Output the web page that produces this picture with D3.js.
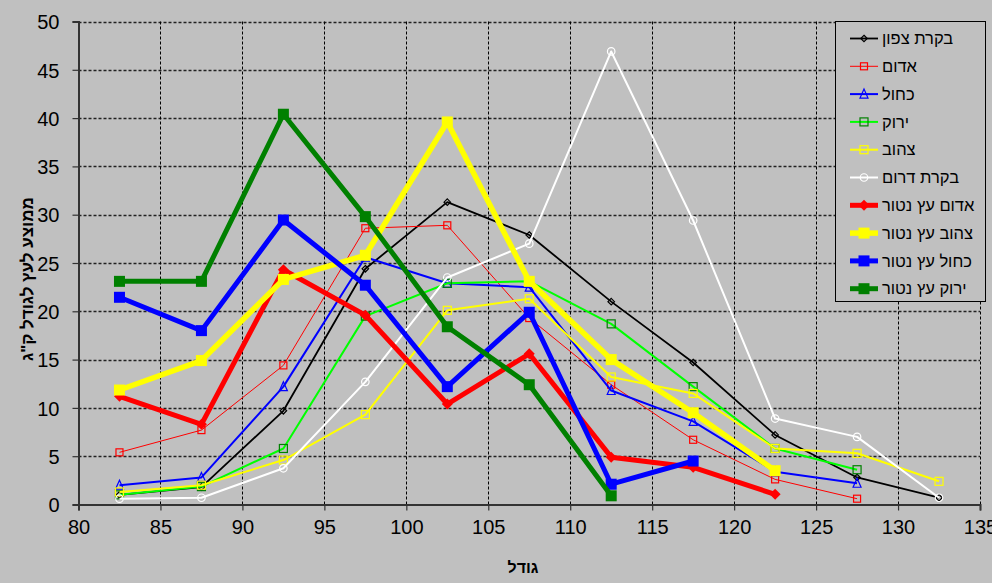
<!DOCTYPE html>
<html><head><meta charset="utf-8">
<script src="https://cdn.jsdelivr.net/npm/d3@7"></script>
<style>
html,body{margin:0;padding:0;background:#C0C0C0;}
svg{display:block;font-family:"Liberation Sans",Arial,sans-serif;}
</style></head>
<body>
<svg id="chart" width="992" height="583"></svg>
<script>
// ---- data ----
const sizes = [82.5, 87.5, 92.5, 97.5, 102.5, 107.5, 112.5, 117.5, 122.5, 127.5, 132.5];
const xTicks = [80, 85, 90, 95, 100, 105, 110, 115, 120, 125, 130, 135];
const yTicks = [0, 5, 10, 15, 20, 25, 30, 35, 40, 45, 50];
const seriesNames = ["בקרת צפון", "אדום", "כחול", "ירוק", "צהוב", "בקרת דרום",
                     "אדום עץ נטור", "צהוב עץ נטור", "כחול עץ נטור", "ירוק עץ נטור"];
const northControl = [1.0, 1.8, 9.7, 24.4, 31.3, 27.9, 21.0, 14.7, 7.2, 2.8, 0.7];
const redThin      = [5.4, 7.7, 14.4, 28.6, 28.9, 19.3, 12.4, 6.7, 2.6, 0.6, null];
const blueThin     = [2.0, 2.8, 12.2, 25.6, 22.9, 22.5, 11.8, 8.6, 3.4, 2.2, null];
const greenThin    = [1.0, 1.85, 5.8, 19.5, 22.9, 23.1, 18.7, 12.2, 5.8, 3.6, null];
const yellowThin   = [1.3, 2.0, 4.6, 9.3, 20.1, 21.3, 13.2, 11.5, 5.8, 5.3, 2.4];
const southControl = [0.6, 0.7, 3.75, 12.7, 23.5, 27.0, 46.9, 29.4, 8.9, 7.0, 0.7];
const redGrafted    = [11.2, 8.3, 24.3, 19.6, 10.4, 15.6, 4.9, 3.85, 1.05, null, null];
const yellowGrafted = [11.85, 14.9, 23.3, 25.8, 39.6, 23.1, 15.0, 9.5, 3.5, null, null];
const blueGrafted   = [21.45, 18.0, 29.45, 22.7, 12.2, 19.9, 2.1, 4.5, null, null, null];
const greenGrafted  = [23.1, 23.1, 40.4, 29.8, 18.4, 12.4, 0.9, null, null, null, null];
const xTitle = "גודל";
const yTitle = "ממוצע לעץ לגודל ק\"ג";

// ---- styles ----
const styles = [
  {line:"#000000", w:1.8, marker:"diamond", ms:6.5, mstroke:"#000000", mfill:"none"},
  {line:"#FF0000", w:1,   marker:"square",  ms:7,   mstroke:"#FF0000", mfill:"none"},
  {line:"#0000FF", w:2,   marker:"triangle",ms:8,   mstroke:"#0000FF", mfill:"none"},
  {line:"#00FF00", w:2,   marker:"square",  ms:8,   mstroke:"#008000", mfill:"none"},
  {line:"#FFFF00", w:2,   marker:"square",  ms:8,   mstroke:"#FFFF00", mfill:"none"},
  {line:"#FFFFFF", w:2,   marker:"circle",  ms:7.5, mstroke:"#FFFFFF", mfill:"none"},
  {line:"#FF0000", w:5,   marker:"diamondF",ms:11,  mstroke:"#FF0000", mfill:"#FF0000"},
  {line:"#FFFF00", w:5.5, marker:"squareF", ms:11,  mstroke:"#FFFF00", mfill:"#FFFF00"},
  {line:"#0000FF", w:5,   marker:"squareF", ms:11,  mstroke:"#0000FF", mfill:"#0000FF"},
  {line:"#008000", w:5,   marker:"squareF", ms:11,  mstroke:"#008000", mfill:"#008000"}
];
const allValues = [northControl, redThin, blueThin, greenThin, yellowThin, southControl,
                   redGrafted, yellowGrafted, blueGrafted, greenGrafted];

const svg = d3.select("#chart");
const L = 78.5, R = 980, T = 21.5, B = 504.5;
const x = d3.scaleLinear().domain([80, 135]).range([L, R]);
const y = d3.scaleLinear().domain([0, 50]).range([B, T]);

// background
svg.append("rect").attr("width", 992).attr("height", 583).attr("fill", "#C0C0C0");

// gridlines
const grid = svg.append("g");
grid.selectAll("line.h").data(yTicks.filter(d => d > 0)).join("line")
  .attr("x1", L).attr("x2", R).attr("y1", d => Math.round(y(d)) + 0.5).attr("y2", d => Math.round(y(d)) + 0.5)
  .attr("stroke", "#222").attr("stroke-width", 1.3).attr("stroke-dasharray", "3,2");
grid.selectAll("line.v").data(xTicks.filter(d => d > 80)).join("line")
  .attr("y1", T).attr("y2", B).attr("x1", d => Math.round(x(d)) + 0.5).attr("x2", d => Math.round(x(d)) + 0.5)
  .attr("stroke", "#000").attr("stroke-width", 1).attr("stroke-dasharray", "3,2");

// axes
const xAxis = d3.axisBottom(x).tickValues(xTicks).tickSize(6).tickPadding(9).tickFormat(d3.format("d"));
const yAxis = d3.axisLeft(y).tickValues(yTicks).tickSize(6).tickPadding(13).tickFormat(d3.format("d"));
const gx = svg.append("g").attr("transform", `translate(0,${B})`).call(xAxis);
const gy = svg.append("g").attr("transform", `translate(${L},0)`).call(yAxis);
[gx, gy].forEach(g => {
  g.select(".domain").attr("stroke", "#333").attr("stroke-width", 2);
  g.selectAll(".tick line").attr("stroke", "#333").attr("stroke-width", 1.2);
  g.selectAll(".tick text").attr("fill", "#000").attr("font-size", 20)
    .attr("font-family", "'Liberation Sans', Arial, sans-serif");
});
gy.selectAll(".tick text").attr("dy", "0.36em");

// marker drawing
function drawMarker(g, st, cx, cy) {
  const s = st.ms;
  let el;
  if (st.marker === "square" || st.marker === "squareF") {
    el = g.append("rect").attr("x", cx - s/2).attr("y", cy - s/2).attr("width", s).attr("height", s);
  } else if (st.marker === "circle") {
    el = g.append("circle").attr("cx", cx).attr("cy", cy).attr("r", s/2);
  } else if (st.marker === "triangle") {
    el = g.append("path").attr("d", `M${cx},${cy - s/2 - 1}L${cx + s/2},${cy + s/2}L${cx - s/2},${cy + s/2}Z`);
  } else {
    el = g.append("path").attr("d", `M${cx},${cy - s/2}L${cx + s/2},${cy}L${cx},${cy + s/2}L${cx - s/2},${cy}Z`);
  }
  el.attr("fill", st.mfill).attr("stroke", st.mstroke).attr("stroke-width", st.marker.endsWith("F") ? 0 : 1.2);
}

// series
const line = d3.line().defined(d => d[1] != null).x(d => x(d[0])).y(d => y(d[1]));
allValues.forEach((vals, i) => {
  const st = styles[i];
  const pts = sizes.map((s, j) => [s, vals[j]]);
  const g = svg.append("g");
  g.append("path").attr("d", line(pts)).attr("fill", "none").attr("stroke", st.line)
    .attr("stroke-width", st.w).attr("stroke-linejoin", "round");
  pts.filter(p => p[1] != null).forEach(p => drawMarker(g, st, x(p[0]), y(p[1])));
});

// legend
const lg = svg.append("g");
lg.append("rect").attr("x", 835.5).attr("y", 21.5).attr("width", 150).attr("height", 280)
  .attr("fill", "#C0C0C0").attr("stroke", "#000").attr("stroke-width", 1);
seriesNames.forEach((name, i) => {
  const st = styles[i];
  const cy = 38.5 + i * 27.8;
  const g = lg.append("g");
  g.append("line").attr("x1", 850).attr("x2", 878).attr("y1", cy).attr("y2", cy)
    .attr("stroke", st.line).attr("stroke-width", st.w);
  drawMarker(g, st, 864, cy);
  g.append("text").attr("x", 882).attr("y", cy).attr("dy", "0.35em").attr("font-size", 16.5)
    .attr("fill", "#000").text(name);
});

// titles
svg.append("text").attr("x", 523).attr("y", 573).attr("text-anchor", "middle")
  .attr("font-size", 16).attr("font-weight", "bold").attr("fill", "#000").text(xTitle);
svg.append("text").attr("transform", "translate(33,279) rotate(-90)").attr("text-anchor", "middle")
  .attr("font-size", 17).attr("font-weight", "bold").attr("fill", "#000").text(yTitle);
</script>
</body></html>
